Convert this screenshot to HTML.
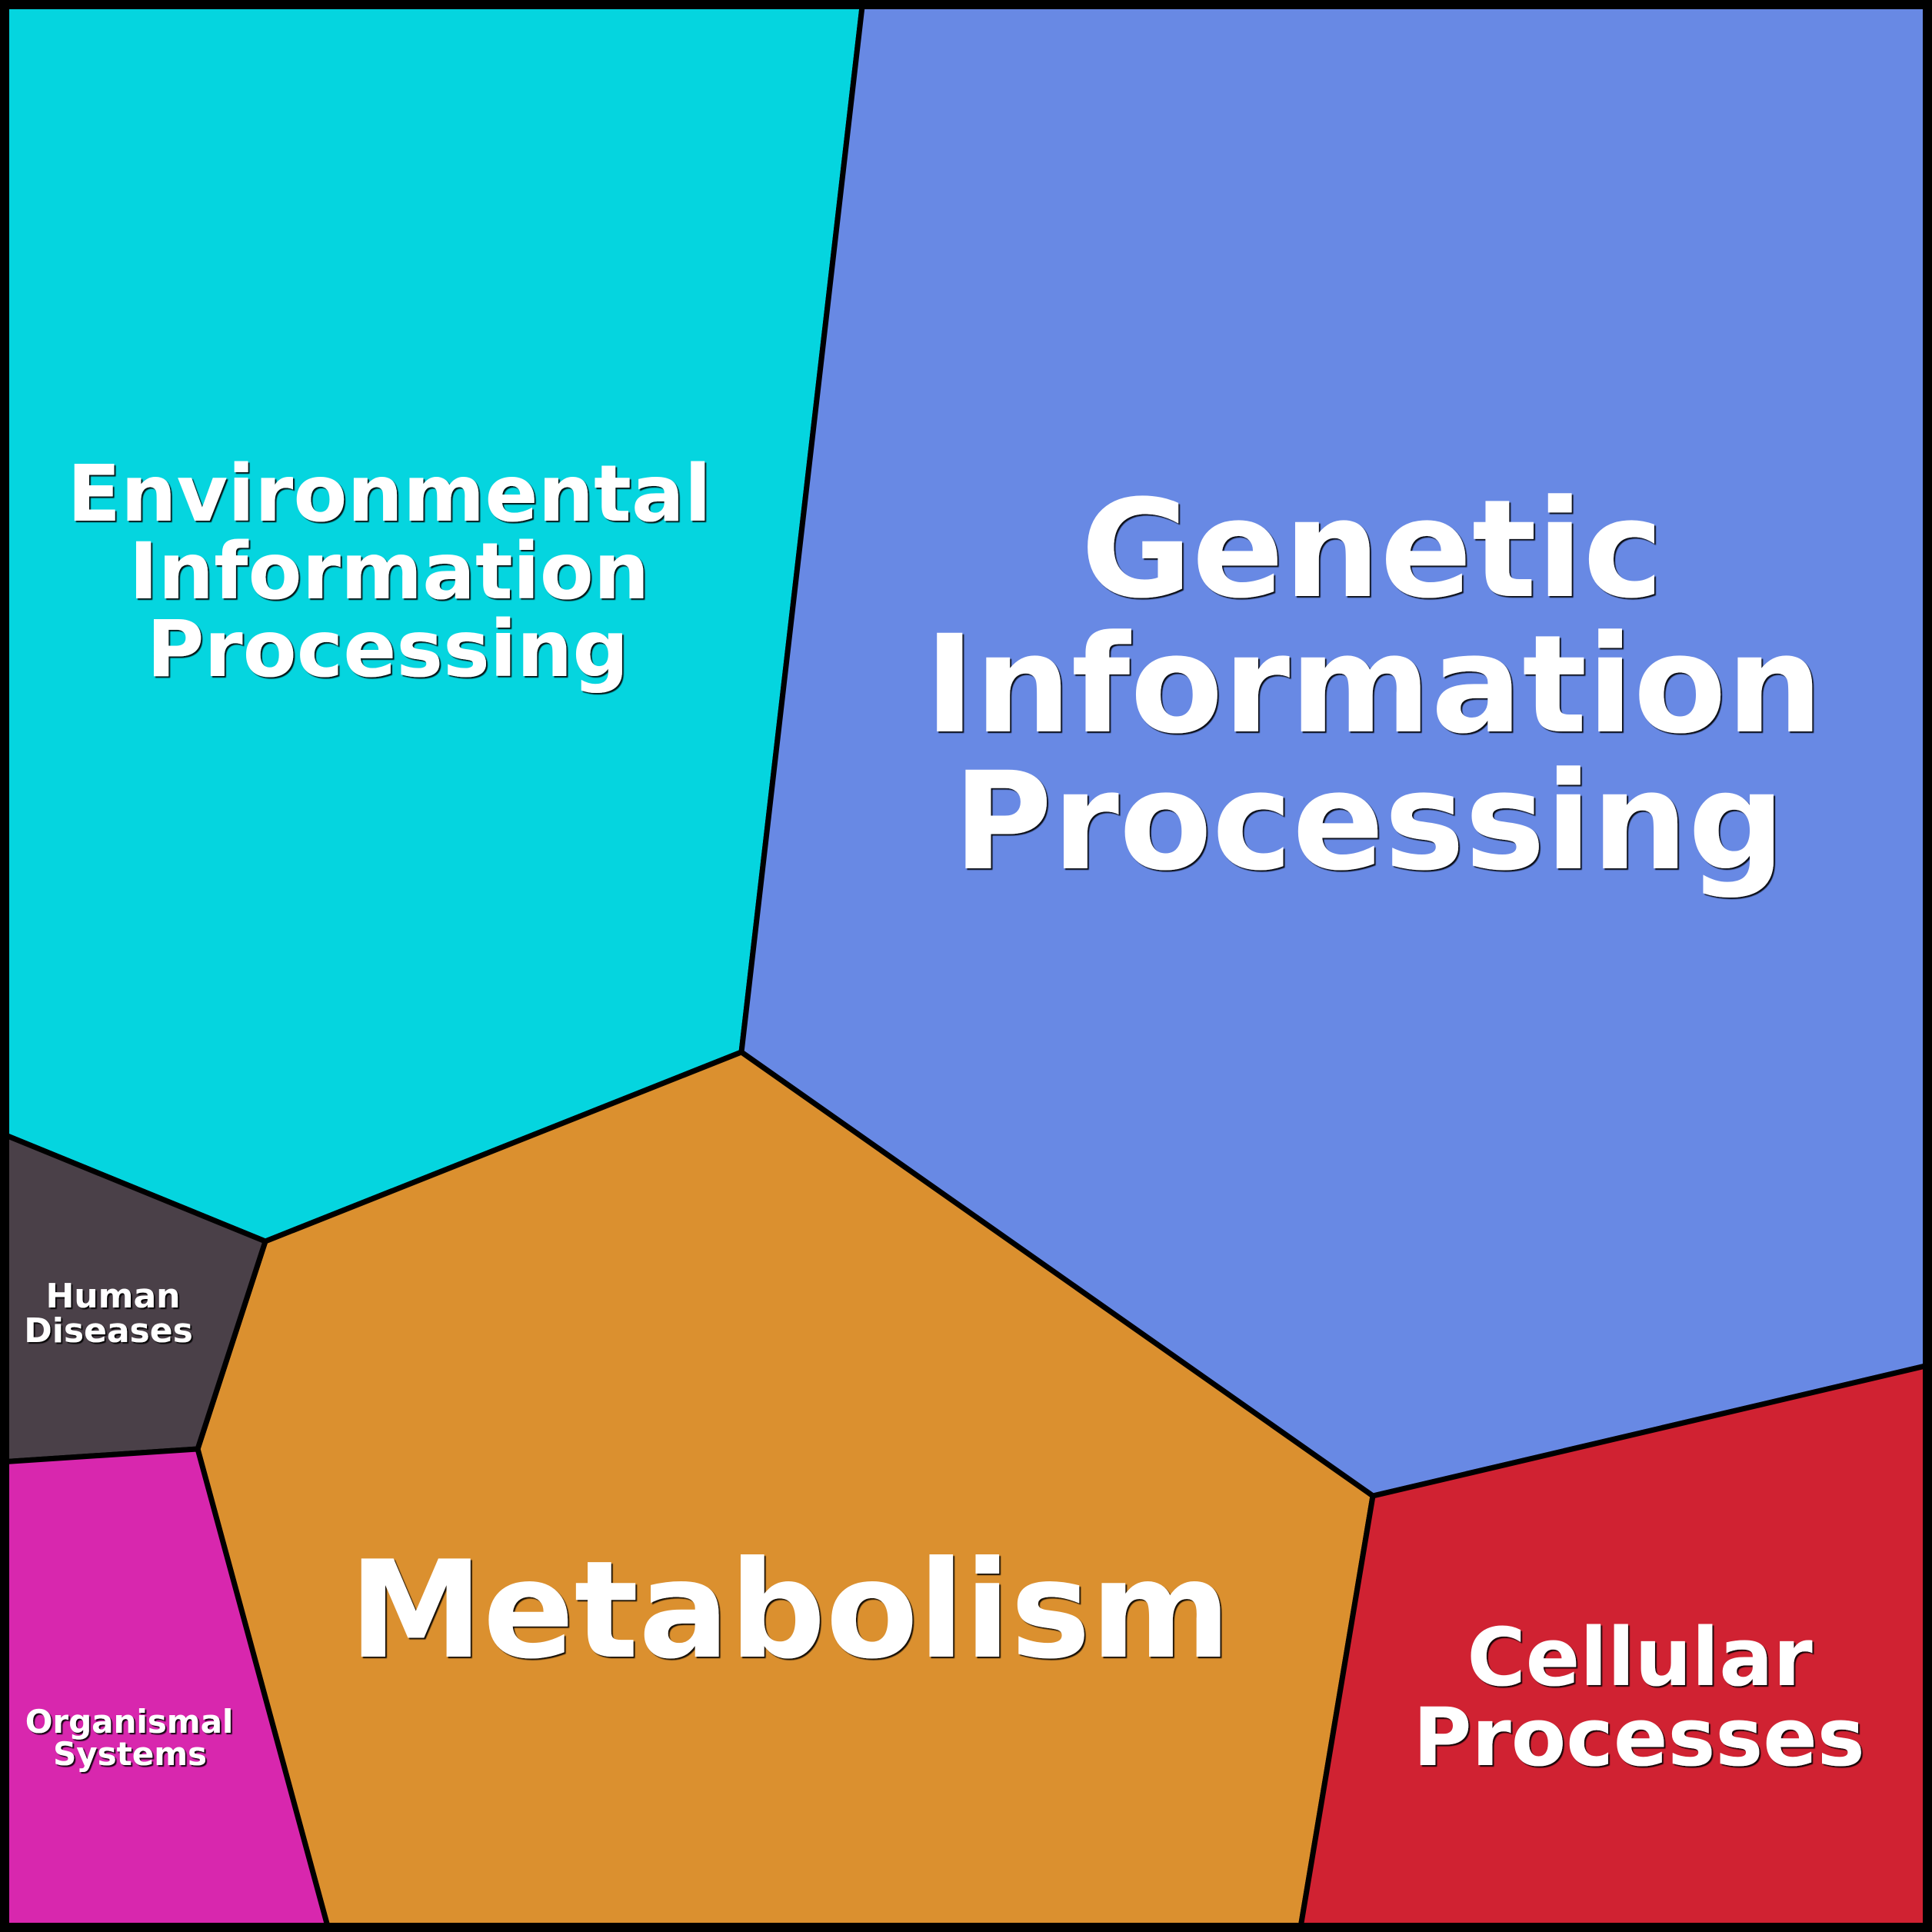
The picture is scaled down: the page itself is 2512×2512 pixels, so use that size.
<!DOCTYPE html>
<html>
<head>
<meta charset="utf-8">
<style>
html,body{margin:0;padding:0;background:#fff;}
svg{display:block;}
text{font-family:"DejaVu Sans","Liberation Sans",sans-serif;font-weight:bold;fill:#fff;text-anchor:middle;}
</style>
</head>
<body>
<svg width="2512" height="2512" viewBox="0 0 2512 2512" xmlns="http://www.w3.org/2000/svg">
<defs>
<filter id="sh" x="-5%" y="-5%" width="110%" height="110%">
<feDropShadow dx="2" dy="2" stdDeviation="0.6" flood-color="#000" flood-opacity="0.9"/>
</filter>
</defs>
<g stroke="#000" stroke-width="7" stroke-linejoin="miter">
<polygon fill="#05D5DF" points="0,0 1122,0 964,1368 345,1614 0,1473"/>
<polygon fill="#6889E4" points="1122,0 2512,0 2512,1774 1785,1945 964,1368"/>
<polygon fill="#DB902F" points="964,1368 1785,1945 1690,2512 428,2512 257,1884 345,1614"/>
<polygon fill="#D02232" points="1785,1945 2512,1774 2512,2512 1690,2512"/>
<polygon fill="#4A4048" points="0,1473 345,1614 257,1884 0,1901"/>
<polygon fill="#D827AE" points="0,1901 257,1884 428,2512 0,2512"/>
</g>
<rect x="0" y="0" width="2512" height="2512" fill="none" stroke="#000" stroke-width="24"/>
<g filter="url(#sh)">
<text font-size="102" x="506" y="677">Environmental</text>
<text font-size="102" x="506" y="778">Information</text>
<text font-size="102" x="504" y="879">Processing</text>

<text font-size="176" x="1784" y="775">Genetic</text>
<text font-size="176" x="1786" y="951">Information</text>
<text font-size="176" x="1780" y="1129">Processing</text>

<text font-size="175" x="1027" y="2154">Metabolism</text>

<text font-size="104" x="2132" y="2191">Cellular</text>
<text font-size="104" x="2131" y="2295">Processes</text>

<text font-size="44" x="147" y="1700">Human</text>
<text font-size="44" x="141" y="1745">Diseases</text>

<text font-size="42" x="168" y="2253">Organismal</text>
<text font-size="42" x="169" y="2295">Systems</text>
</g>
</svg>
</body>
</html>
